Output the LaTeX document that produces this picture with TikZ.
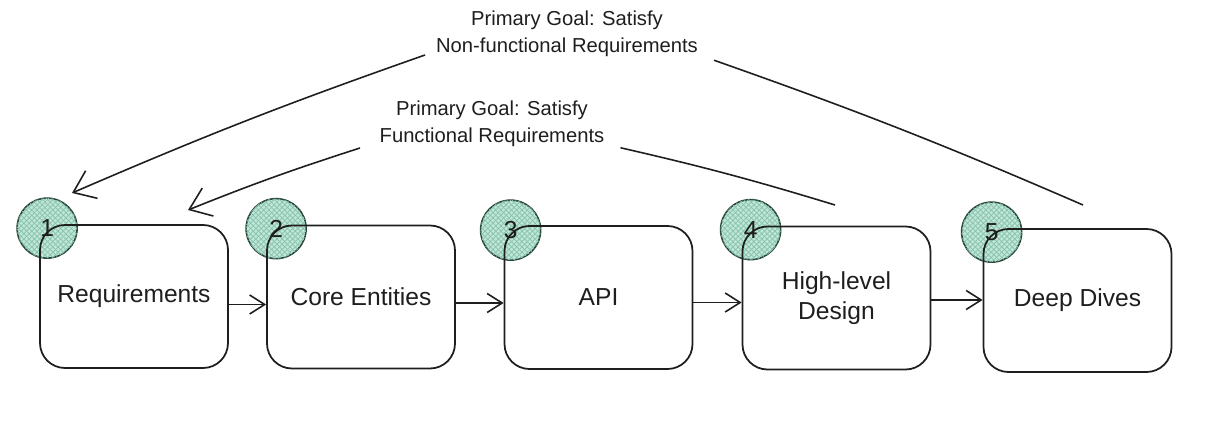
\documentclass[tikz,border=0pt]{standalone}
\usepackage{fontspec}
\setmainfont{Liberation Sans}
\usetikzlibrary{arrows.meta,patterns,backgrounds,positioning}
\definecolor{dotfill}{RGB}{192,230,215}
\definecolor{dothatch}{RGB}{135,195,172}
\definecolor{dotline}{RGB}{40,70,60}
\definecolor{ink}{RGB}{30,30,30}
\begin{document}
\begin{tikzpicture}[
    stage/.style={draw=ink, line width=1pt, rounded corners=0.5cm, minimum width=3.76cm,
        minimum height=2.86cm, align=center, font=\fontsize{14}{17}\selectfont, text=ink},
    numdot/.style={circle, draw=dotline, line width=0.9pt, fill=dotfill,
        postaction={pattern=crosshatch, pattern color=dothatch}, minimum size=1.2cm,
        inner sep=0pt, font=\fontsize{14}{17}\selectfont, text=ink},
    flow/.style={draw=ink, line width=0.9pt, -{Straight Barb[length=3mm,width=3.8mm]}},
    goal/.style={align=center, font=\fontsize{11.5}{15.5}\selectfont, text=ink},
    link/.style={draw=ink, line width=0.9pt},
    pointer/.style={link, -{Straight Barb[length=4mm,width=6mm]}}
]
\useasboundingbox (0,0) rectangle (24.54,8.42);

\node[stage] (req) at (2.68,2.49) {Requirements};
\node[stage] (ent) at (7.22,2.48) {Core Entities};
\node[stage] (api) at (11.97,2.47) {API};
\node[stage] (hld) at (16.73,2.46) {High-level\\Design};
\node[stage] (dd)  at (21.55,2.41) {Deep Dives};

\begin{scope}[on background layer]
    \node[numdot] (n1) at ([shift={(0.16,-0.08)}]req.north west) {1};
    \node[numdot] (n2) at ([shift={(0.2,-0.08)}]ent.north west) {2};
    \node[numdot] (n3) at ([shift={(0.14,-0.1)}]api.north west) {3};
    \node[numdot] (n4) at ([shift={(0.18,-0.08)}]hld.north west) {4};
    \node[numdot] (n5) at ([shift={(0.18,-0.08)}]dd.north west) {5};
\end{scope}

\draw[flow] ([yshift=-0.16cm]req.east) -- ([yshift=-0.16cm]req.east -| ent.west);
\draw[flow] ([yshift=-0.12cm]ent.east) -- ([yshift=-0.12cm]ent.east -| api.west);
\draw[flow] ([yshift=-0.1cm]api.east) -- ([yshift=-0.1cm]api.east -| hld.west);
\draw[flow] ([yshift=-0.04cm]hld.east) -- ([yshift=-0.04cm]hld.east -| dd.west);

\node[goal] (nfgoal) at (11.34,7.75) {Primary Goal: Satisfy\\Non-functional Requirements};
\node[goal] (fgoal) at (9.84,5.95) {Primary Goal: Satisfy\\Functional Requirements};

\coordinate (nfstart) at (8.5,7.32);
\coordinate (nftip) at (1.44,4.56);
\coordinate (nfend) at (21.66,4.32);
\coordinate (fstart) at (7.2,5.46);
\coordinate (ftip) at (3.76,4.22);
\coordinate (fend) at (16.7,4.32);

\draw[pointer] (nfstart) to[bend right=2] (nftip);
\draw[link] ([shift={(0.2,0.05)}]nfgoal.south east) to[bend left=2] (nfend);
\draw[pointer] (fstart) to[bend right=2] (ftip);
\draw[link] ([shift={(0.2,0.1)}]fgoal.south east) to[bend left=2] (fend);
\end{tikzpicture}
\end{document}
